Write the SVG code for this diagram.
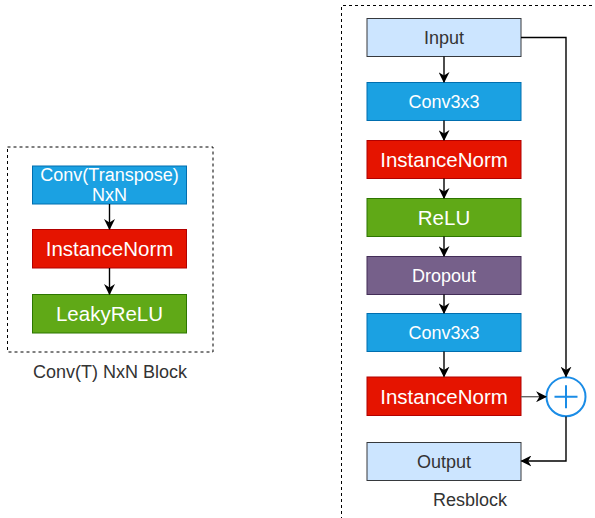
<svg xmlns="http://www.w3.org/2000/svg" width="595" height="518" viewBox="0 0 595 518">
<style>
  text { font-family: "Liberation Sans", Arial, sans-serif; text-anchor: middle; }
  .w { fill: #ffffff; }
  .d { fill: #333333; }
  .s18 { font-size: 18px; }
  .s20 { font-size: 20.5px; }
  .conv { fill: #1ba1e2; stroke: #006eaf; }
  .norm { fill: #e51400; stroke: #b20000; }
  .relu { fill: #60a917; stroke: #2d7600; }
  .drop { fill: #76608a; stroke: #432d57; }
  .io { fill: #cce5ff; stroke: #36393d; }
  .frame { fill: none; stroke: #000; stroke-width: 1; stroke-dasharray: 3 3; }
  .edge { fill: none; stroke: #000; stroke-width: 1.4; }
</style>
<defs>
  <marker id="arr" viewBox="0 0 10 10" refX="9" refY="5" markerWidth="11" markerHeight="11" markerUnits="userSpaceOnUse" orient="auto">
    <path d="M0,0 L10,5 L0,10 L3,5 Z" fill="#000"/>
  </marker>
</defs>

<g id="frames">
  <rect class="frame" x="7.5" y="147" width="205.5" height="205"/>
  <path class="frame" d="M592,5.5 H341.5 V518"/>
</g>

<g id="left-conv">
  <rect class="conv" x="32.5" y="166" width="154" height="38"/>
  <text class="w s18" x="109.5" y="180.5">Conv(Transpose)</text>
  <text class="w s18" x="109.5" y="200.5">NxN</text>
</g>
<g id="left-norm">
  <rect class="norm" x="32.5" y="229.5" width="154" height="38.5"/>
  <text class="w s20" x="109.5" y="256">InstanceNorm</text>
</g>
<g id="left-leaky">
  <rect class="relu" x="32.5" y="294.5" width="154" height="38.5"/>
  <text class="w s20" x="109.5" y="321">LeakyReLU</text>
</g>
<g id="left-label">
  <text class="d s18" x="110" y="378">Conv(T) NxN Block</text>
</g>

<g id="input">
  <rect class="io" x="367" y="18.5" width="154" height="38"/>
  <text class="d s18" x="444" y="44">Input</text>
</g>
<g id="conv1">
  <rect class="conv" x="367" y="82.5" width="154" height="38"/>
  <text class="w s18" x="444" y="108">Conv3x3</text>
</g>
<g id="norm1">
  <rect class="norm" x="367" y="140.5" width="154" height="38"/>
  <text class="w s20" x="444" y="167">InstanceNorm</text>
</g>
<g id="relu">
  <rect class="relu" x="367" y="198.5" width="154" height="38"/>
  <text class="w s20" x="444" y="225">ReLU</text>
</g>
<g id="dropout">
  <rect class="drop" x="367" y="256.5" width="154" height="38"/>
  <text class="w s18" x="444" y="282">Dropout</text>
</g>
<g id="conv2">
  <rect class="conv" x="367" y="313.5" width="154" height="38"/>
  <text class="w s18" x="444" y="339">Conv3x3</text>
</g>
<g id="norm2">
  <rect class="norm" x="367" y="377" width="154" height="38.5"/>
  <text class="w s20" x="444" y="403.5">InstanceNorm</text>
</g>
<g id="output">
  <rect class="io" x="367" y="442.5" width="154" height="38"/>
  <text class="d s18" x="444" y="468">Output</text>
</g>
<g id="sum">
  <circle cx="566" cy="396.7" r="19.5" fill="#ffffff" stroke="#1a8ce6" stroke-width="2"/>
  <path d="M554.5,396.7 H577.5 M566,385.2 V408.2" stroke="#1a8ce6" stroke-width="2" fill="none"/>
</g>
<g id="resblock-label">
  <text class="d s18" x="470" y="506">Resblock</text>
</g>

<g id="connectors">
  <path class="edge" d="M109.5,204 V229" marker-end="url(#arr)"/>
  <path class="edge" d="M109.5,268 V294" marker-end="url(#arr)"/>
  <path class="edge" d="M444,56.5 V82" marker-end="url(#arr)"/>
  <path class="edge" d="M444,120.5 V140" marker-end="url(#arr)"/>
  <path class="edge" d="M444,178.5 V198" marker-end="url(#arr)"/>
  <path class="edge" d="M444,236.5 V256" marker-end="url(#arr)"/>
  <path class="edge" d="M444,294.5 V313" marker-end="url(#arr)"/>
  <path class="edge" d="M444,351.5 V376.5" marker-end="url(#arr)"/>
  <path class="edge" d="M521,37.5 H566 V376.5" marker-end="url(#arr)"/>
  <path class="edge" d="M521,396.7 H546" marker-end="url(#arr)" style="stroke:#666"/>
  <path class="edge" d="M566,416.5 V461 H521.5" marker-end="url(#arr)"/>
</g>
</svg>
